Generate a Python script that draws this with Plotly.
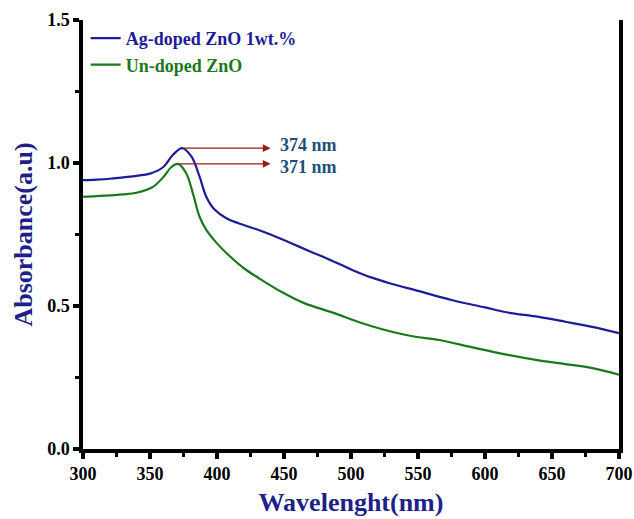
import plotly.graph_objects as go

# UV-Vis absorbance spectra of ZnO samples
wavelength_ag = [300, 310, 320, 330, 340, 350, 360, 367, 374, 381, 387, 392, 398,
                 407, 420, 431, 440, 455, 470, 485, 500, 515, 530, 550, 575, 600, 616,
                 640, 660, 680, 700]
absorb_ag = [0.940, 0.942, 0.945, 0.950, 0.955, 0.963, 0.986, 1.028, 1.052, 1.022, 0.952,
             0.882, 0.838, 0.807, 0.783, 0.766, 0.750, 0.720, 0.690, 0.660, 0.628,
             0.600, 0.578, 0.553, 0.521, 0.495, 0.478, 0.462, 0.445, 0.427, 0.405]

wavelength_un = [300, 310, 320, 330, 340, 352, 360, 366, 371, 377, 382, 387, 392, 400,
                 410, 420, 431, 449, 465, 487, 505, 524, 545, 566, 590, 616, 640,
                 660, 680, 700]
absorb_un = [0.882, 0.884, 0.887, 0.890, 0.896, 0.916, 0.951, 0.986, 0.997, 0.964, 0.894,
             0.812, 0.766, 0.719, 0.672, 0.632, 0.598, 0.547, 0.510, 0.476, 0.445,
             0.418, 0.395, 0.381, 0.356, 0.330, 0.310, 0.297, 0.283, 0.260]

series_names = ["Ag-doped ZnO 1wt.%", "Un-doped ZnO"]
series_colors = ["#1c1c96", "#1a7a1a"]

# peak markers: (peak wavelength, peak absorbance, label, label pixel shift)
peaks = [(374, 1.052, "374 nm", 3), (371, 0.997, "371 nm", -3)]
arrow_end = 440

x_ticks = [300, 350, 400, 450, 500, 550, 600, 650, 700]
y_ticks = [0.0, 0.5, 1.0, 1.5]

FONT = "Liberation Serif, Times New Roman, serif"
NAVY = "#1f1f8a"

fig = go.Figure()
for xs, ys, name, color in [(wavelength_ag, absorb_ag, series_names[0], series_colors[0]),
                            (wavelength_un, absorb_un, series_names[1], series_colors[1])]:
    fig.add_trace(go.Scatter(
        x=xs, y=ys, mode="lines", line=dict(color=color, width=2.2, shape="spline", smoothing=1.0),
        name=f'<span style="color:{color}">{name}</span>'))

for px, py, label, shift in peaks:
    fig.add_annotation(x=arrow_end, y=py, ax=px, ay=py, xref="x", yref="y", axref="x", ayref="y",
                       showarrow=True, arrowhead=2, arrowsize=1.2, arrowwidth=1.3,
                       arrowcolor="#9b1b1b", text="")
    fig.add_annotation(x=arrow_end + 6, y=py, xref="x", yref="y", text=label, showarrow=False,
                       xanchor="left", yanchor="middle", yshift=shift, borderpad=0,
                       font=dict(family=FONT, size=18, color="#1d4f7c", weight="bold"))

axis_common = dict(showline=True, linecolor="black", linewidth=3.5, ticks="outside", tickwidth=3.5,
                   ticklen=6, tickcolor="black", showgrid=False, zeroline=False, automargin=False,
                   tickfont=dict(family=FONT, size=18, color="black", weight="bold"))

fig.update_layout(
    width=634, height=519,
    margin=dict(l=83, r=15, t=20, b=70),
    plot_bgcolor="white", paper_bgcolor="white",
    showlegend=True,
    legend=dict(x=0.005, y=1.0, xanchor="left", yanchor="top", bgcolor="rgba(0,0,0,0)",
                font=dict(family=FONT, size=18, weight="bold"), tracegroupgap=0,
                itemwidth=30),
    xaxis=dict(range=[300, 700], tickvals=x_ticks, mirror=False,
               minor=dict(ticks="outside", dtick=25, ticklen=4, tickwidth=2.5, tickcolor="black"),
               title=dict(text="Wavelenght(nm)", standoff=10,
                          font=dict(family=FONT, size=26, color=NAVY, weight="bold")),
               **axis_common),
    yaxis=dict(range=[0, 1.5], tickvals=y_ticks, tickformat=".1f", mirror=True,
               minor=dict(ticks="outside", dtick=0.25, ticklen=4, tickwidth=2.5, tickcolor="black"),
               title=dict(text="Absorbance(a.u)", standoff=8,
                          font=dict(family=FONT, size=26, color=NAVY, weight="bold")),
               **axis_common),
)

fig.write_html("out.html")
